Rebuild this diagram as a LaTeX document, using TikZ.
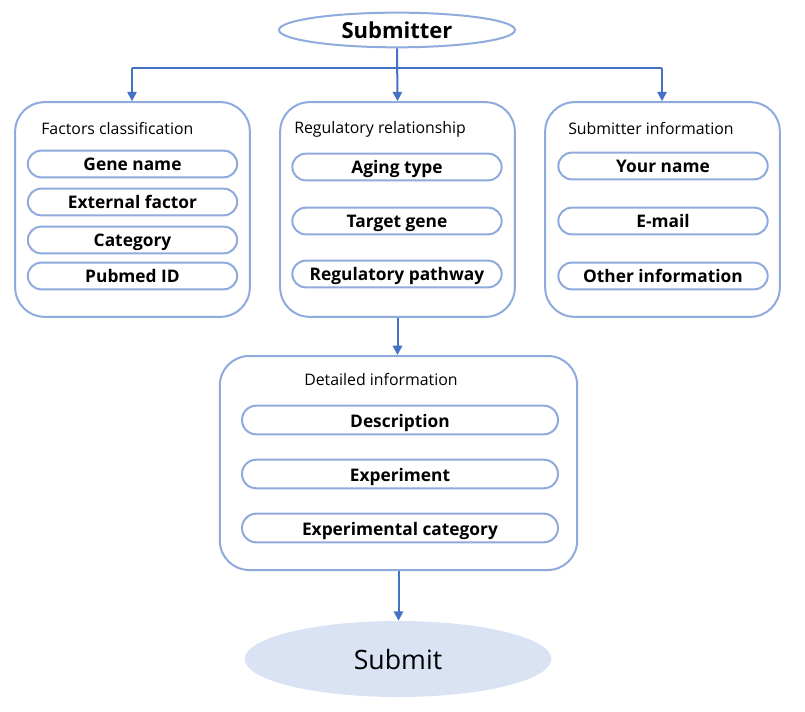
\documentclass[tikz,border=0pt]{standalone}
\usepackage{fontspec}
\setmainfont{Open Sans}
\usetikzlibrary{shapes.geometric,arrows.meta}
\definecolor{boxc}{HTML}{8FAADC}
\definecolor{arrc}{HTML}{4472C4}
\definecolor{subfill}{HTML}{DAE3F3}
\tikzset{
  outer/.style={draw=boxc,line width=1.5pt,rounded corners=22pt,minimum width=#1,inner sep=0pt},
  pill/.style={draw=boxc,line width=1.5pt,rounded corners=10pt,minimum width=157pt,minimum height=20pt,inner sep=0pt,text height=11pt,text depth=0.5pt,font=\fontsize{13}{15}\selectfont\bfseries},
  ttl/.style={anchor=west,inner sep=0pt,font=\fontsize{11.9}{14}\selectfont},
  arr/.style={draw=arrc,line width=1.5pt,-{Triangle[length=7pt,width=7pt]}},
  ln/.style={draw=arrc,line width=1.5pt},
}
\begin{document}
\begin{tikzpicture}[x=0.75pt,y=-0.75pt]
\useasboundingbox (0,0) rectangle (805,712);
% top ellipse
\node[ellipse,draw=boxc,line width=1.5pt,minimum width=177pt,minimum height=26pt,inner sep=0pt,font=\fontsize{16.5}{18}\selectfont\bfseries] (sub) at (397,30) {Submitter};
% outer boxes
\node[outer=176pt,minimum height=161pt] (fc) at (132.5,209.5) {};
\node[outer=176pt,minimum height=161pt] (rr) at (397.5,209.5) {};
\node[outer=176pt,minimum height=161pt] (si) at (662.5,209.5) {};
\node[outer=268pt,minimum height=160.5pt] (di) at (398.5,463) {};
% titles
\node[ttl] (fct) at (41,129) {Factors classification};
\node[ttl] (rrt) at (294,129) {Regulatory relationship};
\node[ttl] (sit) at (568,129) {Submitter information};
\node[ttl] (dit) at (304,380) {Detailed information};
% left pills
\node[pill] (g1) at (132.5,164) {Gene name};
\node[pill] (g2) at (132.5,202) {External factor};
\node[pill] (g3) at (132.5,240) {Category};
\node[pill] (g4) at (132.5,276) {Pubmed ID};
% middle pills
\node[pill] (r1) at (397,167) {Aging type};
\node[pill] (r2) at (397,221) {Target gene};
\node[pill] (r3) at (397,274) {Regulatory pathway};
% right pills
\node[pill] (s1) at (663,166) {Your name};
\node[pill] (s2) at (663,221) {E-mail};
\node[pill] (s3) at (663,276) {Other information};
% detailed pills
\node[pill,minimum width=237pt,minimum height=21.5pt,rounded corners=10.75pt] (d1) at (400,420) {Description};
\node[pill,minimum width=237pt,minimum height=21.5pt,rounded corners=10.75pt] (d2) at (400,474) {Experiment};
\node[pill,minimum width=237pt,minimum height=21.5pt,rounded corners=10.75pt] (d3) at (400,528) {Experimental category};
% submit
\node[ellipse,fill=subfill,minimum width=230pt,minimum height=57pt,inner sep=0pt,font=\fontsize{20}{24}\selectfont] (sm) at (398,659) {Submit};
% connectors
\coordinate (hl) at (132,68);
\coordinate (hr) at (662,68);
\draw[ln] (hl) -- (hr);
\draw[arr] (sub.south) -- (rr.north);
\draw[arr] (hl) -- (hl |- fc.north);
\draw[arr] (hr) -- (hr |- si.north);
\draw[arr] (rr.south) -- (rr.south |- di.north);
\draw[arr] (di.south) -- (di.south |- sm.north);
\end{tikzpicture}
\end{document}
